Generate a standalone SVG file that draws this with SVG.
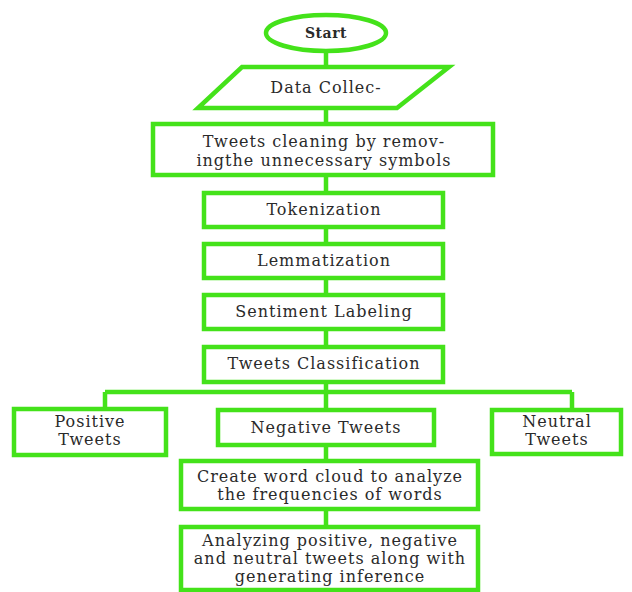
<svg xmlns="http://www.w3.org/2000/svg" width="632" height="592" viewBox="0 0 632 592">
<style>
.s{fill:#fff;stroke:#44e21a;stroke-width:4.5}
.c{fill:none;stroke:#44e21a;stroke-width:4.5}
text{font-family:"DejaVu Serif","Liberation Serif",serif;font-size:16px;fill:#2a2a2a;text-anchor:middle;letter-spacing:1px}
</style>
<rect width="632" height="592" fill="#fff"/>
<g id="connectors">
<path class="c" d="M326 51V67M326 108V124M326 175V193M326 227V244M326 278V295M326 329V347M326 382V392M105 392H572M105 392V409M572 392V410M326 392V410M326 445V461M326 509V527"/>
</g>
<g id="start"><ellipse class="s" cx="326" cy="33" rx="60" ry="18"/><text x="326" y="38" style="font-weight:bold;font-size:14px;letter-spacing:0.5px">Start</text></g>
<g id="data"><polygon class="s" points="242,67 449,67 397,108 198,108"/><text x="326" y="93">Data Collec-</text></g>
<g id="cleaning"><rect class="s" x="153" y="124" width="340" height="51"/><text x="324" y="147">Tweets cleaning by remov-</text><text x="324" y="166">ingthe unnecessary symbols</text></g>
<g id="token"><rect class="s" x="204" y="193" width="239" height="34"/><text x="324" y="215">Tokenization</text></g>
<g id="lemma"><rect class="s" x="204" y="244" width="239" height="34"/><text x="324" y="266">Lemmatization</text></g>
<g id="senti"><rect class="s" x="204" y="295" width="239" height="34"/><text x="324" y="317">Sentiment Labeling</text></g>
<g id="classif"><rect class="s" x="204" y="347" width="239" height="35"/><text x="324" y="369">Tweets Classification</text></g>
<g id="positive"><rect class="s" x="14" y="409" width="152" height="46"/><text x="90" y="427">Positive</text><text x="90" y="445">Tweets</text></g>
<g id="negative"><rect class="s" x="218" y="410" width="216" height="35"/><text x="326" y="433">Negative Tweets</text></g>
<g id="neutral"><rect class="s" x="492" y="410" width="129" height="44"/><text x="557" y="427">Neutral</text><text x="557" y="445">Tweets</text></g>
<g id="wordcloud"><rect class="s" x="181" y="461" width="297" height="48"/><text x="330" y="482">Create word cloud to analyze</text><text x="330" y="500">the frequencies of words</text></g>
<g id="analyze"><rect class="s" x="181" y="527" width="297" height="63"/><text x="330" y="546">Analyzing positive, negative</text><text x="330" y="564">and neutral tweets along with</text><text x="330" y="582">generating inference</text></g>
</svg>
